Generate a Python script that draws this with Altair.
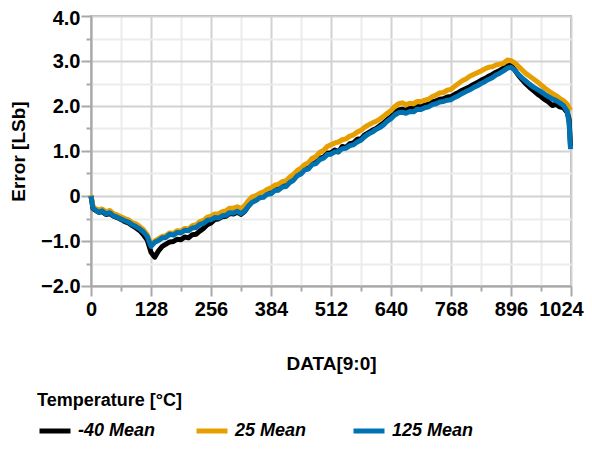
import altair as alt
import pandas as pd

codes = [0, 4] + list(range(8, 1024, 8)) + [1020, 1023]

series_names = ["-40 Mean", "25 Mean", "125 Mean"]
series_colors = ["#000000", "#E69F00", "#0072B2"]

x_ticks = [0, 64, 128, 192, 256, 320, 384, 448, 512, 576, 640, 704, 768, 832, 896, 960, 1024]
y_ticks = [-2.0, -1.5, -1.0, -0.5, 0.0, 0.5, 1.0, 1.5, 2.0, 2.5, 3.0, 3.5, 4.0]

err_m40 = [0.00, -0.27,
           -0.31, -0.36, -0.35, -0.41, -0.39, -0.45, -0.48, -0.52,
           -0.57, -0.60, -0.66, -0.71, -0.77, -0.86, -0.98, -1.25,
           -1.36, -1.22, -1.12, -1.07, -1.02, -1.01, -0.96, -0.97,
           -0.91, -0.93, -0.86, -0.85, -0.78, -0.72, -0.64, -0.60,
           -0.52, -0.51, -0.46, -0.45, -0.39, -0.40, -0.36, -0.41,
           -0.34, -0.22, -0.12, -0.08, -0.02, 0.00, 0.07, 0.08,
           0.15, 0.16, 0.23, 0.24, 0.33, 0.38, 0.48, 0.52,
           0.60, 0.63, 0.72, 0.74, 0.84, 0.86, 0.95, 0.96,
           1.02, 0.98, 1.10, 1.08, 1.16, 1.18, 1.26, 1.27,
           1.36, 1.41, 1.46, 1.50, 1.56, 1.62, 1.70, 1.76,
           1.86, 1.91, 1.93, 1.90, 1.95, 1.94, 1.99, 1.98,
           2.02, 2.04, 2.09, 2.11, 2.15, 2.16, 2.20, 2.21,
           2.26, 2.30, 2.35, 2.39, 2.43, 2.48, 2.52, 2.57,
           2.61, 2.66, 2.70, 2.75, 2.79, 2.84, 2.89, 2.91,
           2.80, 2.68, 2.58, 2.49, 2.41, 2.34, 2.27, 2.21,
           2.14, 2.09, 2.01, 2.04, 1.98, 1.96, 1.86,
           1.70, 1.10]

err_25 = [0.02, -0.22,
          -0.27, -0.31, -0.29, -0.35, -0.32, -0.39, -0.42, -0.46,
          -0.50, -0.53, -0.59, -0.62, -0.68, -0.75, -0.86, -1.08,
          -1.00, -0.95, -0.90, -0.88, -0.82, -0.83, -0.77, -0.78,
          -0.72, -0.73, -0.66, -0.64, -0.57, -0.54, -0.47, -0.45,
          -0.40, -0.40, -0.35, -0.33, -0.27, -0.27, -0.24, -0.28,
          -0.21, -0.10, -0.02, 0.01, 0.06, 0.09, 0.15, 0.18,
          0.24, 0.26, 0.32, 0.34, 0.42, 0.48, 0.57, 0.62,
          0.70, 0.74, 0.84, 0.88, 0.97, 1.01, 1.10, 1.14,
          1.18, 1.20, 1.25, 1.27, 1.33, 1.36, 1.42, 1.46,
          1.53, 1.58, 1.62, 1.66, 1.71, 1.77, 1.84, 1.90,
          1.99, 2.05, 2.07, 2.03, 2.06, 2.05, 2.10, 2.10,
          2.13, 2.15, 2.21, 2.24, 2.29, 2.30, 2.35, 2.37,
          2.44, 2.50, 2.56, 2.60, 2.66, 2.70, 2.74, 2.78,
          2.82, 2.86, 2.87, 2.91, 2.93, 2.95, 3.02, 3.01,
          2.96, 2.88, 2.80, 2.72, 2.66, 2.60, 2.54, 2.47,
          2.40, 2.34, 2.28, 2.23, 2.17, 2.12, 2.04,
          1.96, 1.90]

err_125 = [0.00, -0.26,
           -0.30, -0.36, -0.33, -0.40, -0.37, -0.44, -0.47, -0.51,
           -0.55, -0.58, -0.64, -0.68, -0.73, -0.80, -0.90, -1.12,
           -1.03, -0.99, -0.93, -0.92, -0.85, -0.87, -0.81, -0.82,
           -0.76, -0.77, -0.71, -0.70, -0.63, -0.61, -0.54, -0.53,
           -0.48, -0.49, -0.44, -0.43, -0.37, -0.38, -0.34, -0.39,
           -0.33, -0.22, -0.14, -0.10, -0.04, -0.03, 0.04, 0.05,
           0.12, 0.13, 0.20, 0.21, 0.30, 0.35, 0.45, 0.49,
           0.58, 0.60, 0.70, 0.72, 0.81, 0.84, 0.92, 0.93,
           0.98, 0.99, 1.05, 1.06, 1.12, 1.14, 1.20, 1.24,
           1.32, 1.38, 1.42, 1.48, 1.52, 1.58, 1.66, 1.72,
           1.80, 1.85, 1.86, 1.84, 1.88, 1.87, 1.93, 1.92,
           1.96, 1.98, 2.03, 2.05, 2.09, 2.10, 2.13, 2.14,
           2.19, 2.23, 2.28, 2.32, 2.36, 2.41, 2.45, 2.50,
           2.54, 2.59, 2.63, 2.69, 2.73, 2.78, 2.84, 2.86,
           2.80, 2.70, 2.62, 2.55, 2.48, 2.42, 2.37, 2.32,
           2.26, 2.21, 2.16, 2.12, 2.07, 2.01, 1.88,
           1.60, 1.04]

rows = []
for name, vals in zip(series_names, [err_m40, err_25, err_125]):
    if len(vals) != len(codes):
        raise ValueError(f"{name}: {len(vals)} values for {len(codes)} codes")
    for c, v in zip(codes, vals):
        rows.append({"code": c, "err": v, "series": name})
df = pd.DataFrame(rows)

FONT = "Liberation Sans"
GRID_MAJOR = "#d2d2d2"
GRID_MINOR = "#ececec"
AXIS_GRAY = "#a8a8a8"

x_axis = alt.Axis(
    title="DATA[9:0]",
    values=x_ticks,
    labelExpr="datum.value % 128 == 0 ? format(datum.value, 'd') : ''",
    labelOverlap=False,
    labelFlush=False,
    labelPadding=3,
    labelOffset={"condition": {"test": "datum.value == 1024", "value": -10}, "value": 0},
    titlePadding=35,
    tickSize={"condition": {"test": "datum.value % 128 == 0", "value": 10}, "value": 5},
    gridColor={"condition": {"test": "datum.value % 128 == 0", "value": GRID_MAJOR}, "value": GRID_MINOR},
)

y_axis = alt.Axis(
    title="Error [LSb]",
    values=y_ticks,
    labelExpr="datum.value % 1 == 0 ? (datum.value == 0 ? '0' : format(datum.value, '.1f')) : ''",
    labelOverlap=False,
    labelFlush=False,
    labelPadding=1,
    labelOffset={"condition": {"test": "datum.value == 4", "value": 2}, "value": 0},
    titlePadding=12,
    tickSize={"condition": {"test": "datum.value % 1 == 0", "value": 10}, "value": 5},
    gridColor={"condition": {"test": "datum.value % 1 == 0", "value": GRID_MAJOR}, "value": GRID_MINOR},
)

legend = alt.Legend(
    title="Temperature [°C]",
    orient="none",
    legendX=-54,
    legendY=376,
    direction="horizontal",
    symbolType="stroke",
    symbolSize=961,
    symbolStrokeWidth=5,
    labelFont=FONT,
    labelFontSize=18,
    labelFontStyle="italic",
    labelFontWeight="bold",
    labelColor="#000000",
    labelOffset=5,
    titleFont=FONT,
    titleFontSize=18,
    titleFontWeight="bold",
    titleColor="#000000",
    titlePadding=3,
    titleLimit=400,
    columnPadding=26,
    gridAlign="all",
    padding=0,
)

chart = (
    alt.Chart(df)
    .mark_line(strokeWidth=5, strokeJoin="round")
    .encode(
        x=alt.X("code:Q", scale=alt.Scale(domain=[0, 1024], nice=False, zero=False), axis=x_axis),
        y=alt.Y("err:Q", scale=alt.Scale(domain=[-2, 4], nice=False, zero=False), axis=y_axis),
        color=alt.Color("series:N", sort=series_names,
                        scale=alt.Scale(domain=series_names, range=series_colors), legend=legend),
    )
    .properties(
        width=480,
        height=270,
        autosize=alt.AutoSizeParams(type="none"),
        padding={"left": 83, "top": 8, "right": 13, "bottom": 153},
        background="white",
    )
    .configure_view(stroke="#b4b4b4", strokeWidth=2)
    .configure_axis(
        labelFont=FONT,
        labelFontSize=20,
        labelFontWeight="bold",
        labelColor="#000000",
        titleFont=FONT,
        titleFontSize=19,
        titleFontWeight="bold",
        titleColor="#000000",
        domainColor=AXIS_GRAY,
        domainWidth=2,
        tickColor=AXIS_GRAY,
        tickWidth=2,
        gridWidth=2,
    )
)

chart.save("out.html", embed_options={"renderer": "svg", "actions": False})
